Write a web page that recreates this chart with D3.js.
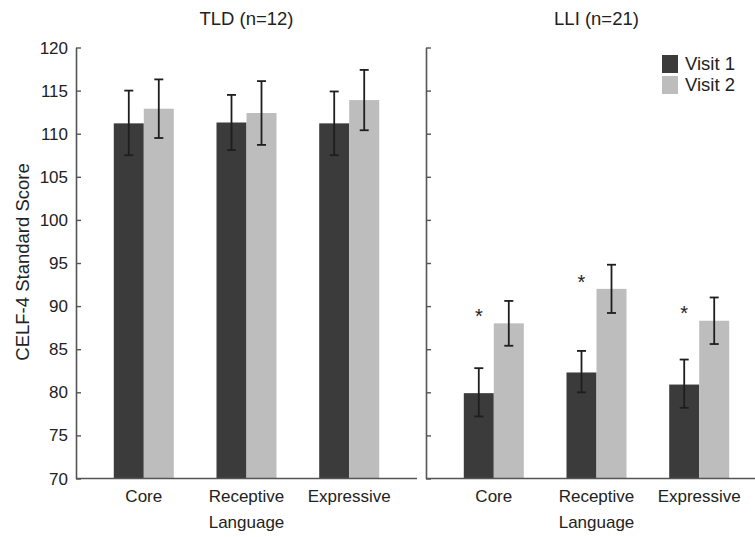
<!DOCTYPE html>
<html>
<head>
<meta charset="utf-8">
<title>CELF-4 Standard Score by visit</title>
<script src="https://d3js.org/d3.v7.min.js"></script>
<style>
  body { margin: 0; background: #fff; }
  text { font-family: "Liberation Sans", Arial, sans-serif; fill: #222; }
</style>
</head>
<body>
<svg id="chart" width="755" height="537"></svg>
<script>
// data
var categories = ['Core', 'Receptive', 'Expressive'];
var visits = ['Visit 1', 'Visit 2'];
var groups = ['TLD (n=12)', 'LLI (n=21)'];

// means
var tldVisit1 = [111.2, 111.3, 111.2];
var tldVisit2 = [112.9, 112.4, 113.9];
var lliVisit1 = [79.9, 82.3, 80.9];
var lliVisit2 = [88.0, 92.0, 88.3];

// error bar ends [low, high]
var tldErr1 = [[107.5, 115.0], [108.1, 114.5], [107.5, 114.9]];
var tldErr2 = [[109.5, 116.3], [108.7, 116.1], [110.4, 117.4]];
var lliErr1 = [[77.2, 82.8], [80.0, 84.8], [78.2, 83.8]];
var lliErr2 = [[85.4, 90.6], [89.2, 94.8], [85.6, 91.0]];

var lliSignificant = [true, true, true];
var yTicks = [70, 75, 80, 85, 90, 95, 100, 105, 110, 115, 120];

var colors = ['#3b3b3b', '#bdbdbd'];

var svg = d3.select('#chart');

var y = d3.scaleLinear().domain([70, 120]).range([478.5, 47.5]);
var barW = 30;

var panels = [
  {title: groups[0], left: 76, v: [tldVisit1, tldVisit2], e: [tldErr1, tldErr2], sig: null, labels: true},
  {title: groups[1], left: 426, v: [lliVisit1, lliVisit2], e: [lliErr1, lliErr2], sig: lliSignificant, labels: false}
];

panels.forEach(function(p){
  var x = d3.scalePoint().domain(categories).range([p.left, p.left + 341]).padding(0.66);
  var g = svg.append('g');

  // bars
  p.v.forEach(function(series, si){
    g.selectAll(null).data(series).enter().append('rect')
      .attr('x', function(d, i){ return x(categories[i]) - barW + si * barW; })
      .attr('y', function(d){ return y(d); })
      .attr('width', barW)
      .attr('height', function(d){ return y(70) - y(d); })
      .attr('fill', colors[si]);
  });

  // error bars
  p.e.forEach(function(series, si){
    series.forEach(function(d, i){
      var cx = x(categories[i]) - barW / 2 + si * barW;
      g.append('line').attr('x1', cx).attr('x2', cx)
        .attr('y1', y(d[0])).attr('y2', y(d[1]))
        .attr('stroke', '#1e1e1e').attr('stroke-width', 1.8);
      [d[0], d[1]].forEach(function(v){
        g.append('line').attr('x1', cx - 4.5).attr('x2', cx + 4.5)
          .attr('y1', y(v)).attr('y2', y(v))
          .attr('stroke', '#1e1e1e').attr('stroke-width', 1.8);
      });
    });
  });

  // significance stars
  if (p.sig) {
    p.sig.forEach(function(s, i){
      if (!s) return;
      g.append('text')
        .attr('x', x(categories[i]) - barW / 2)
        .attr('y', y(p.v[1][i] + 1.2) + 10)
        .attr('text-anchor', 'middle')
        .style('font-size', '20px')
        .text('*');
    });
  }

  // y axis, ticks pointing inward
  var yAxis = d3.axisRight(y).tickValues(yTicks).tickSize(5).tickFormat('').tickSizeOuter(0);
  var ya = g.append('g').attr('transform', 'translate(' + p.left + ',0)').call(yAxis);
  ya.select('.domain').attr('stroke', '#555').attr('stroke-width', 1.6);
  ya.selectAll('.tick line').attr('stroke', '#555').attr('stroke-width', 1.4);

  if (p.labels) {
    g.selectAll(null).data(yTicks).enter().append('text')
      .attr('x', p.left - 8)
      .attr('y', function(d){ return y(d) + 6; })
      .attr('text-anchor', 'end')
      .style('font-size', '17px')
      .text(function(d){ return d; });
  }

  // x axis baseline
  g.append('line')
    .attr('x1', p.left).attr('x2', p.left + 341)
    .attr('y1', y(70)).attr('y2', y(70))
    .attr('stroke', '#555').attr('stroke-width', 1.6);

  g.selectAll(null).data(categories).enter().append('text')
    .attr('x', function(d){ return x(d); })
    .attr('y', 502)
    .attr('text-anchor', 'middle')
    .style('font-size', '17px')
    .text(function(d){ return d; });

  g.append('text')
    .attr('x', x(categories[1]))
    .attr('y', 528)
    .attr('text-anchor', 'middle')
    .style('font-size', '17px')
    .text('Language');

  g.append('text')
    .attr('x', x(categories[1]))
    .attr('y', 25)
    .attr('text-anchor', 'middle')
    .style('font-size', '18.5px')
    .text(p.title);
});

// y axis title
svg.append('text')
  .attr('transform', 'translate(29,262) rotate(-90)')
  .attr('text-anchor', 'middle')
  .style('font-size', '18.5px')
  .text('CELF-4 Standard Score');

// legend
var legend = svg.append('g').attr('transform', 'translate(662,55)');
visits.forEach(function(v, i){
  legend.append('rect')
    .attr('x', 0).attr('y', i * 21)
    .attr('width', 16).attr('height', 18)
    .attr('fill', colors[i]);
  legend.append('text')
    .attr('x', 23).attr('y', i * 21 + 15)
    .style('font-size', '18.5px')
    .text(v);
});
</script>
</body>
</html>
